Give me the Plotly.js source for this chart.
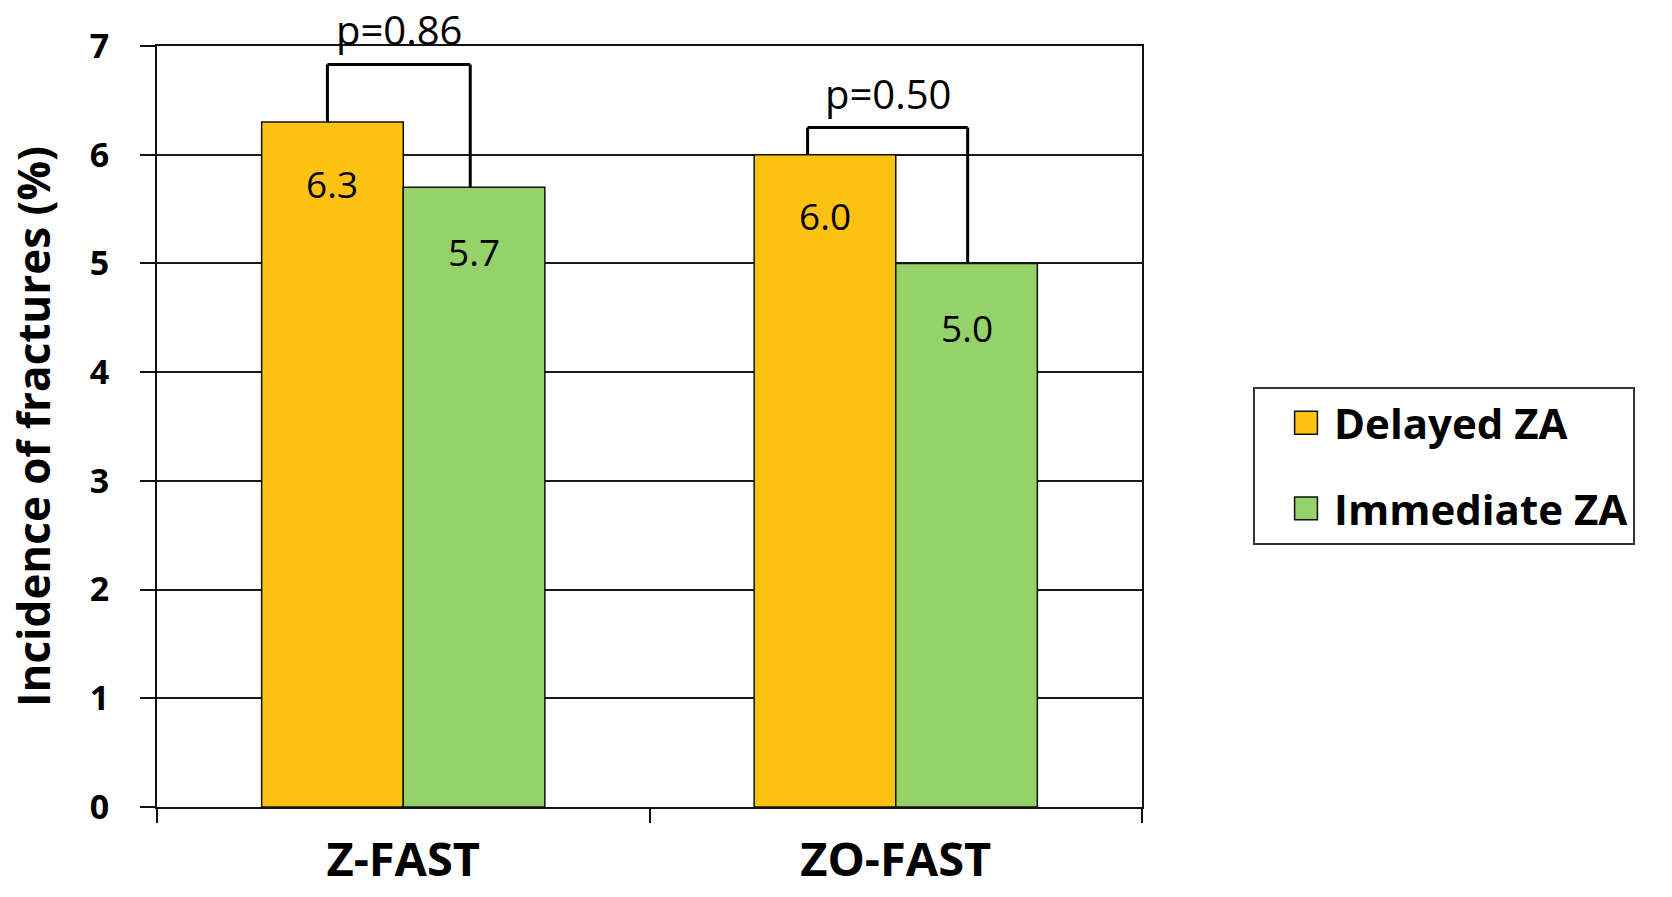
<!DOCTYPE html>
<html>
<head>
<meta charset="utf-8">
<script src="https://cdn.plot.ly/plotly-3.0.1.min.js"></script>
<style>html,body{margin:0;padding:0;background:#fff;}#chart{width:1672px;height:897px;}</style>
</head>
<body>
<div id="chart"></div>
<script>
// ---- data ----
const categories = ["Z-FAST", "ZO-FAST"];
const seriesNames = ["Delayed ZA", "Immediate ZA"];
const delayedZA = [6.3, 6.0];
const immediateZA = [5.7, 5.0];
const pLabels = ["p=0.86", "p=0.50"];
const bracketTops = [6.83, 6.25];          // height of each bracket (value units)
const bracketLeft = [-0.154, 0.821];       // bracket ends (category index units)
const bracketRight = [0.136, 1.146];
const yTicks = [0, 1, 2, 3, 4, 5, 6, 7];

// ---- styling ----
const FONT = "Open Sans";
const orange = "#FEC212";
const green = "#95D26A";
const bargap = 0.425;
const barHalfOffset = (1 - bargap) / 4; // centre of each of 2 grouped bars

const traces = [
  {type: "bar", name: seriesNames[0], x: categories, y: delayedZA, legendgroup: "a",
   marker: {color: orange, line: {color: "#111", width: 1.5}}, hoverinfo: "y"},
  {type: "bar", name: seriesNames[1], x: categories, y: immediateZA, legendgroup: "b",
   marker: {color: green, line: {color: "#111", width: 1.5}}, hoverinfo: "y"}
];

const annotations = [];
const shapes = [];
categories.forEach((c, i) => {
  const xl = i - barHalfOffset, xr = i + barHalfOffset;
  // value labels inside bars
  annotations.push({x: xl, y: delayedZA[i], xref: "x", yref: "y", text: delayedZA[i].toFixed(1),
    showarrow: false, yanchor: "middle", yshift: -61, font: {family: FONT, size: 37, color: "#000"}});
  annotations.push({x: xr, y: immediateZA[i], xref: "x", yref: "y", text: immediateZA[i].toFixed(1),
    showarrow: false, yanchor: "middle", yshift: -64, font: {family: FONT, size: 37, color: "#000"}});
  // p-value labels
  annotations.push({x: (bracketLeft[i] + bracketRight[i]) / 2, y: bracketTops[i], xref: "x", yref: "y", text: pLabels[i],
    showarrow: false, yanchor: "bottom", yshift: 5, font: {family: FONT, size: 40, color: "#000"}});
  // brackets
  const ln = {color: "#000", width: 3};
  shapes.push({type: "line", xref: "x", yref: "y", x0: bracketLeft[i], x1: bracketLeft[i], y0: delayedZA[i], y1: bracketTops[i], line: ln});
  shapes.push({type: "line", xref: "x", yref: "y", x0: bracketLeft[i], x1: bracketRight[i], y0: bracketTops[i], y1: bracketTops[i], line: ln});
  shapes.push({type: "line", xref: "x", yref: "y", x0: bracketRight[i], x1: bracketRight[i], y0: immediateZA[i], y1: bracketTops[i], line: ln});
});

const layout = {
  width: 1672, height: 897,
  margin: {l: 157, r: 530, t: 46, b: 90, pad: 0},
  paper_bgcolor: "#fff", plot_bgcolor: "#fff",
  barmode: "group", bargap: bargap, bargroupgap: 0,
  font: {family: FONT, color: "#000"},
  xaxis: {
    type: "category", tickson: "boundaries", ticks: "outside", ticklen: 14, tickwidth: 2, tickcolor: "#111",
    showline: true, linecolor: "#111", linewidth: 2, mirror: true, showgrid: false, automargin: false,
    tickfont: {family: FONT, size: 47, weight: "bold", color: "#000"}, ticklabelstandoff: 11
  },
  yaxis: {
    range: [0, 7], tickvals: yTicks, ticktext: yTicks.map(String), ticks: "outside", ticklen: 15, tickwidth: 2, tickcolor: "#111",
    showline: true, linecolor: "#111", linewidth: 2, mirror: true,
    showgrid: true, gridcolor: "#1a1a1a", gridwidth: 2, zeroline: false, automargin: false,
    tickfont: {family: FONT, size: 34, weight: "bold", color: "#000"}, ticklabelstandoff: 24,
    title: {text: "Incidence of fractures (%)", standoff: 25, font: {family: FONT, size: 44, weight: "bold", color: "#000"}}
  },
  showlegend: true,
  legend: {
    x: 1.1127, y: 0.552, xanchor: "left", yanchor: "top", xref: "paper", yref: "paper",
    bgcolor: "#fff", bordercolor: "#333", borderwidth: 2, itemwidth: 69,
    font: {family: FONT, size: 42, weight: "bold", color: "#000"},
    tracegroupgap: 28, itemclick: false, itemdoubleclick: false
  },
  annotations: annotations,
  shapes: shapes
};

Plotly.newPlot("chart", traces, layout, {displayModeBar: false, staticPlot: true}).then(gd => {
  // enlarge legend swatches to match the reference's bigger squares
  gd.querySelectorAll(".legend .legendpoints path").forEach(p => {
    p.setAttribute("transform", "translate(51,0) scale(1.9)");
    p.style.vectorEffect = "non-scaling-stroke";
  });
});
</script>
</body>
</html>
